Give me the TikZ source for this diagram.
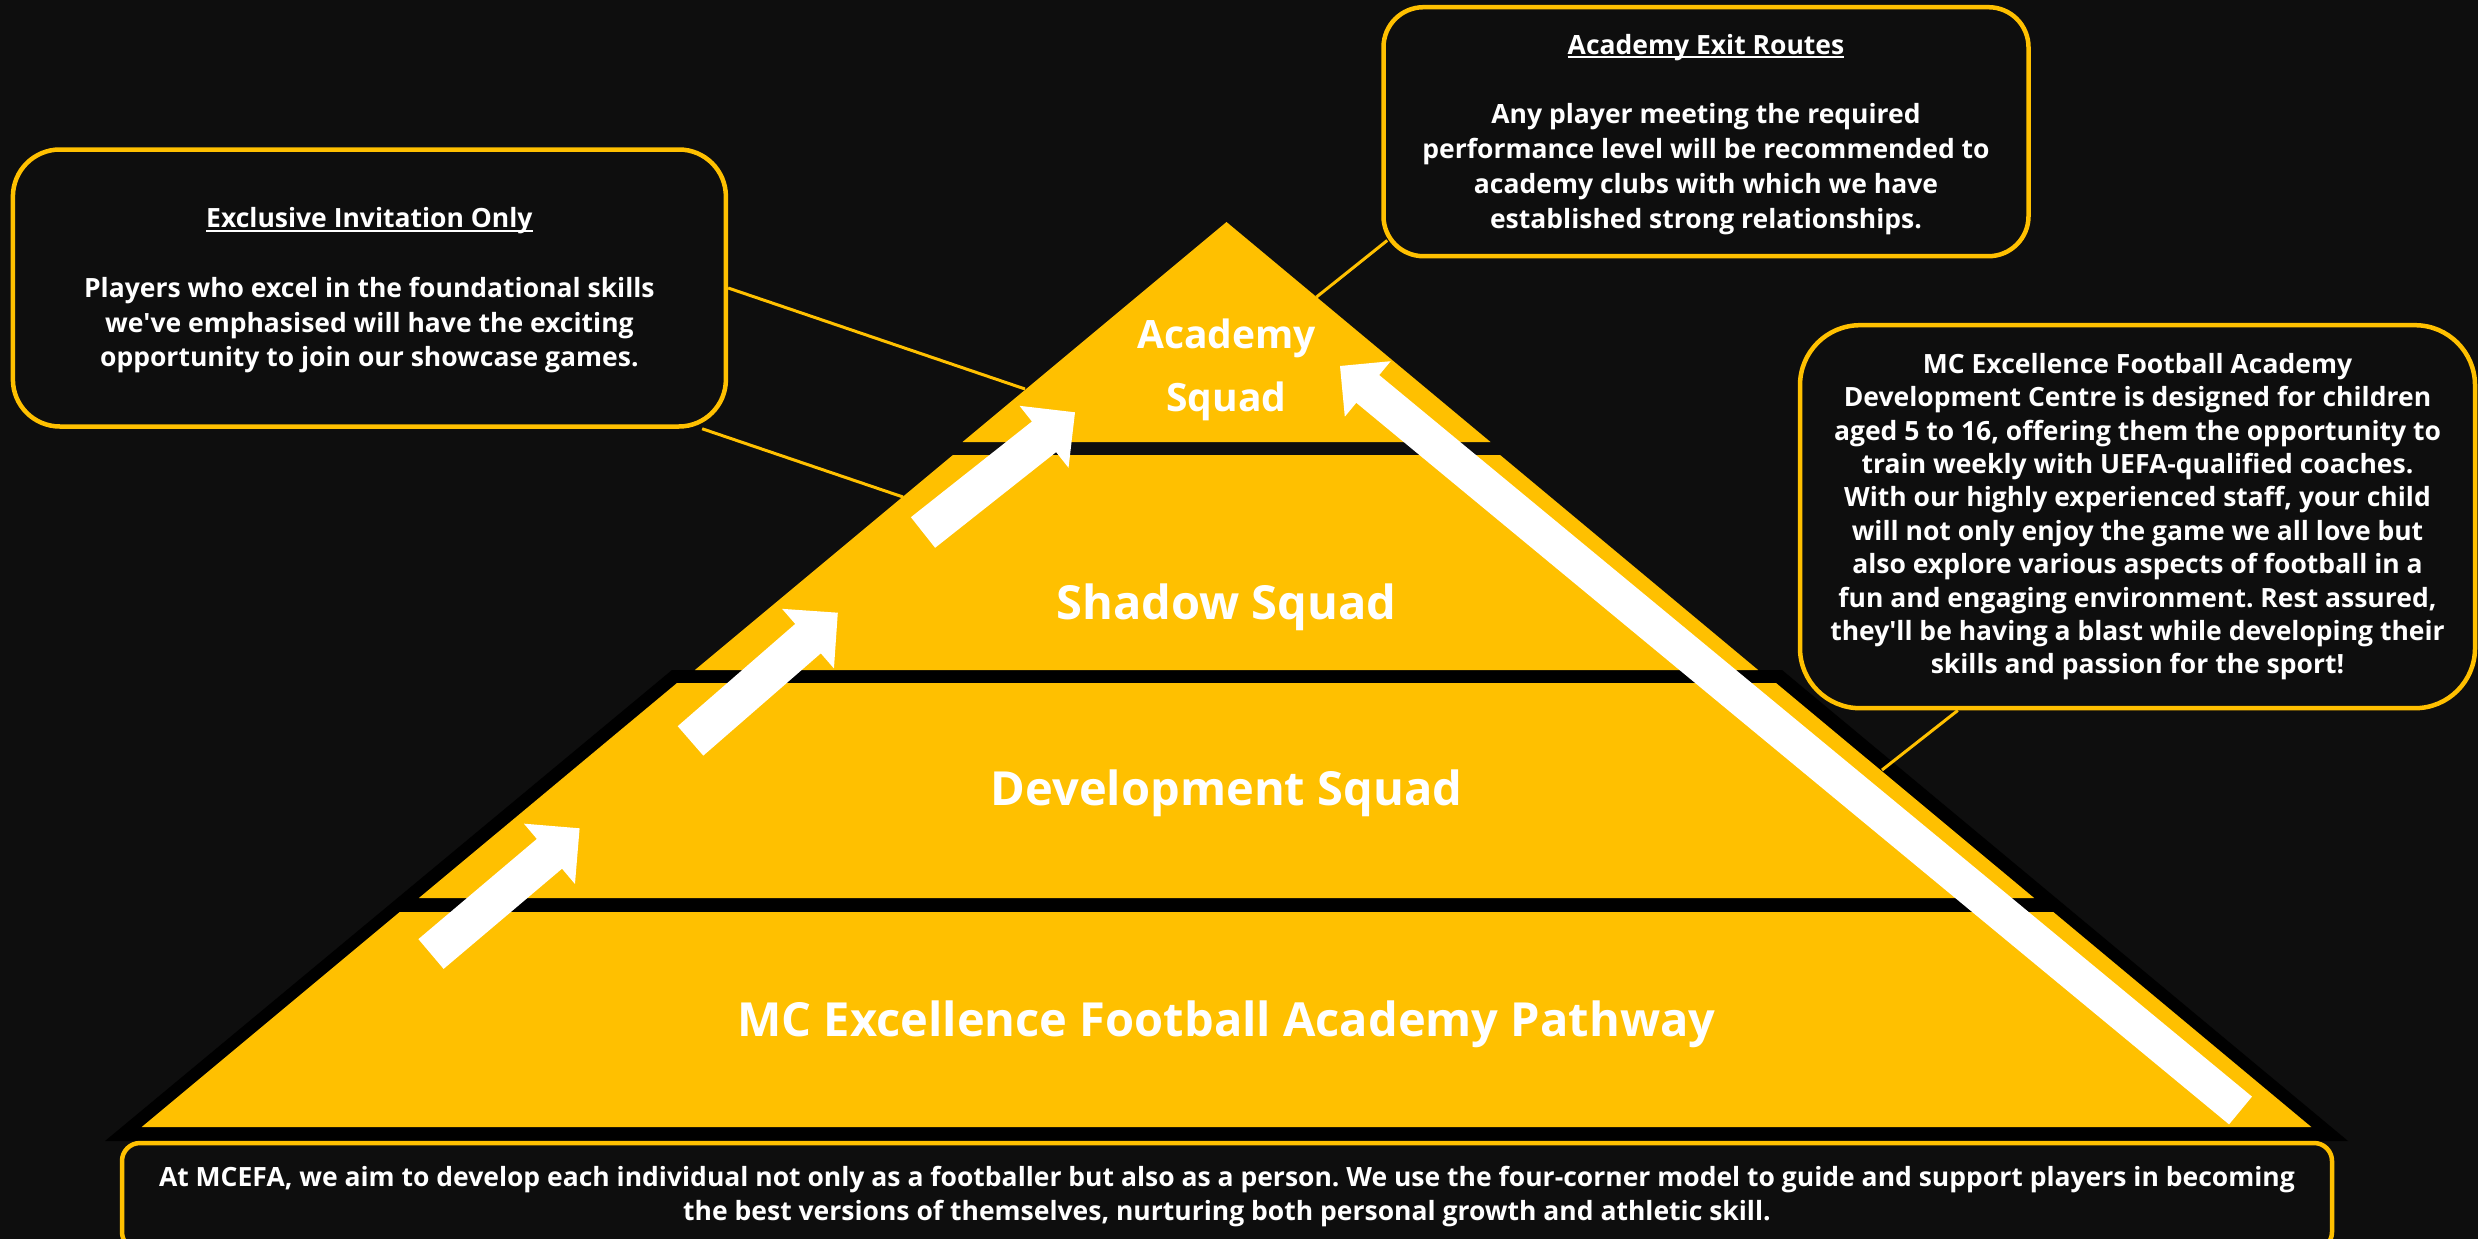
\documentclass[tikz,border=0pt]{standalone}
\usepackage{fontspec}
\setmainfont{Open Sans}
\frenchspacing
\usetikzlibrary{calc}
\definecolor{bg}{RGB}{14,14,14}
\definecolor{gold}{RGB}{255,192,0}
\newsavebox\ulbox
\newcommand\ulx[1]{\sbox\ulbox{#1}\rlap{\rule[-4pt]{\wd\ulbox}{1.6pt}}\usebox\ulbox}
\newcommand\blockarrow[5]{%
  \coordinate (#1-b) at ($(#2)!#5!(#1)$);
  \fill[arrowfill] ($(#1)!#3!90:(#2)$) -- ($(#1-b)!#3!90:(#2)$) -- ($(#1-b)!#4!90:(#2)$) -- (#2)
    -- ($(#1-b)!#4!-90:(#2)$) -- ($(#1-b)!#3!-90:(#2)$) -- ($(#1)!#3!-90:(#2)$) -- cycle;}
\begin{document}
\begin{tikzpicture}[x=1pt,y=-1pt,
  tier/.style={fill=gold},
  shadowfill/.style={fill=black},
  arrowfill/.style={fill=white},
  callout/.style={draw=gold, line width=3pt},
  infobox/.style={draw=gold, line width=4.5pt, fill=bg, rounded corners=#1, inner sep=0pt},
  bodytext/.style={text=white, align=center, font=\bfseries\fontsize{26.5}{34.8}\selectfont},
  tiertext/.style={text=white, align=center, font=\bfseries\fontsize{47}{55}\selectfont}]
\useasboundingbox (0,0) rectangle (2478,1239);
\clip (0,0) rectangle (2478,1239);
\fill[bg] (0,0) rectangle (2478,1239);
% black shadow behind the lower tiers
\fill[shadowfill] (672,670) -- (1782,670) -- (2348,1141) -- (105,1141) -- cycle;
% tiers
\fill[tier] (1226.5,222) -- (1490.5,442) -- (962.5,442) -- cycle;
\fill[tier] (952.9,455) -- (1500.1,455) -- (1758.1,670) -- (694.9,670) -- cycle;
\fill[tier] (677,683) -- (1776,683) -- (2034.1,898) -- (418.9,898) -- cycle;
\fill[tier] (399.7,912) -- (2053.3,912) -- (2311.3,1127) -- (141.7,1127) -- cycle;
% arrows
\coordinate (a1t) at (431,954);     \coordinate (a1h) at (579.6,828.3);
\coordinate (a2t) at (690.5,740.9); \coordinate (a2h) at (837.8,612.7);
\coordinate (a3t) at (923,532.5);   \coordinate (a3h) at (1075,412.3);
\coordinate (a4t) at (2240.5,1110.5); \coordinate (a4h) at (1340,366);
\blockarrow{a1t}{a1h}{19.5pt}{39.5pt}{39.5pt}
\blockarrow{a2t}{a2h}{19.5pt}{39.5pt}{39.5pt}
\blockarrow{a3t}{a3h}{19.5pt}{39.5pt}{39.5pt}
\blockarrow{a4t}{a4h}{18pt}{36pt}{36pt}
% tier labels
\node[tiertext, font=\bfseries\fontsize{39}{63.5}\selectfont] (acad) at (1226.5,370) {Academy\\Squad};
\node[tiertext] (shadow) at (1226.5,607) {Shadow Squad};
\node[tiertext] (devsq) at (1226.5,793) {Development Squad};
\node[tiertext] (pathway) at (1226.5,1024) {MC Excellence Football Academy Pathway};
% boxes
\node[infobox=47pt, minimum width=713pt, minimum height=277pt, bodytext] (excl) at (369.4,288)
  {\rule{0pt}{25pt}\ulx{Exclusive Invitation Only}\\[34.8pt]
   Players who excel in the foundational skills\\
   we\textquotesingle ve emphasised will have the exciting\\
   opportunity to join our showcase games.};
\node[infobox=40pt, minimum width=645pt, minimum height=249pt, bodytext] (exit) at (1706,131.7)
  {\rule{0pt}{25pt}\ulx{Academy Exit Routes}\\[34.8pt]
   Any player meeting the required\\
   performance level will be recommended to\\
   academy clubs with which we have\\
   established strong relationships.};
\node[infobox=60pt, minimum width=675pt, minimum height=383pt, bodytext,
  font=\bfseries\fontsize{26.5}{33.4}\selectfont] (dev) at (2137.5,516.7)
  {MC Excellence Football Academy\\
   Development Centre is designed for children\\
   aged 5 to 16, offering them the opportunity to\\
   train weekly with UEFA-qualified coaches.\\
   With our highly experienced staff, your child\\
   will not only enjoy the game we all love but\\
   also explore various aspects of football in a\\
   fun and engaging environment. Rest assured,\\
   they\textquotesingle ll be having a blast while developing their\\
   skills and passion for the sport!};
\node[infobox=18pt, minimum width=2210pt, minimum height=107pt, bodytext,
  font=\bfseries\fontsize{26.5}{34}\selectfont] (bottom) at (1227,1196.5)
  {At MCEFA, we aim to develop each individual not only as a footballer but also as a person. We use the four-corner model to guide and support players in becoming\\
   the best versions of themselves, nurturing both personal growth and athletic skill.};
% callout lines
\coordinate (p1) at (1025,389);
\coordinate (p2) at (903,497);
\coordinate (p3) at (1316.5,297);
\coordinate (p4) at (1882,770);
\draw[callout] (excl.east) -- (p1);
\draw[callout] ($(excl.south east)+(-26,0)$) -- (p2);
\draw[callout] ($(exit.south west)+(6,-18)$) -- (p3);
\draw[callout] ($(dev.south west)+(160,0)$) -- (p4);
\end{tikzpicture}
\end{document}
